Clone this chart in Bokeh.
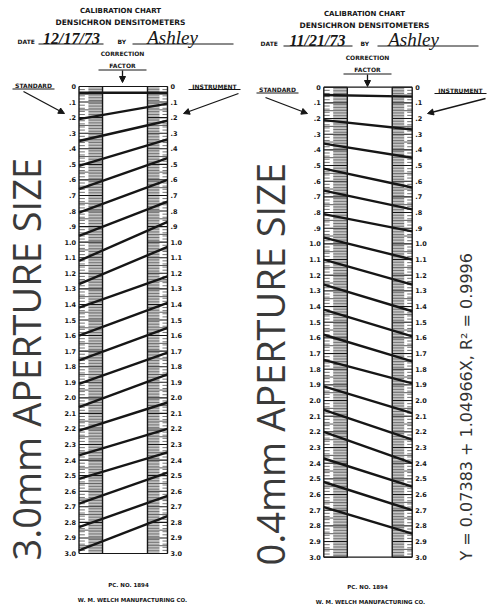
import numpy as np
from bokeh.plotting import figure
from bokeh.layouts import row
from bokeh.models import Range1d, Arrow, NormalHead
from bokeh.core.properties import value
from bokeh.embed import file_html
from bokeh.resources import INLINE

# Scale labels printed beside both density scales (0 to 3.0)
tick_labels = ["0", ".1", ".2", ".3", ".4", ".5", ".6", ".7", ".8", ".9",
               "1.0", "1.1", "1.2", "1.3", "1.4", "1.5", "1.6", "1.7", "1.8", "1.9",
               "2.0", "2.1", "2.2", "2.3", "2.4", "2.5", "2.6", "2.7", "2.8", "2.9",
               "3.0"]

# 3.0 mm aperture: standard density (left scale) joined to instrument reading (right scale)
std_3mm = [0.04, 0.21, 0.35, 0.51, 0.66, 0.81, 0.96, 1.12, 1.27, 1.42,
           1.60, 1.76, 1.91, 2.06, 2.21, 2.37, 2.52, 2.68, 2.83, 2.98]
inst_3mm = [0.04, 0.11, 0.22, 0.34, 0.46, 0.60, 0.74, 0.87, 1.03, 1.22,
            1.39, 1.55, 1.71, 1.85, 2.03, 2.20, 2.35, 2.48, 2.63, 2.76]

# 0.4 mm aperture
std_04mm = [0.05, 0.21, 0.36, 0.52, 0.66, 0.81, 0.96, 1.10, 1.26, 1.42,
            1.58, 1.74, 1.91, 2.06, 2.20, 2.37, 2.52, 2.68]
inst_04mm = [0.06, 0.27, 0.45, 0.64, 0.78, 0.92, 1.10, 1.26, 1.43, 1.59,
             1.75, 1.89, 2.08, 2.25, 2.40, 2.55, 2.70, 2.85]

dates = ["12/17/73", "11/21/73"]
operator = "Ashley"
apertures = ["3.0mm APERTURE SIZE", "0.4mm APERTURE SIZE"]
fit_label = "Y = 0.07383 + 1.04966X, R\u00b2 = 0.9996"

INK = "#161616"
BOLD = value("DejaVu Sans")
HAND = value("Liberation Serif")


def make_sheet(width, frame, std, inst, date, aperture, pos, fit=None):
    xl, xr, y0, y3 = frame
    X = lambda px: (px - xl) / (xr - xl)
    V = lambda py: (py - y0) / (y3 - y0) * 3.0

    p = figure(width=width, height=605, output_backend="svg", toolbar_location=None,
               x_range=Range1d(X(0), X(width)), y_range=Range1d(V(605), V(0)),
               min_border=0, outline_line_color=None, background_fill_color="white",
               border_fill_color="white")
    p.axis.visible = False
    p.grid.visible = False

    def txt(x, y, s, size, align="center", style="bold", font=BOLD, angle=0.0,
            baseline="middle", color=INK):
        p.text(x=[X(x)], y=[V(y)], text=[s], text_font=font, text_font_size=size,
               text_font_style=style, text_align=align, text_baseline=baseline,
               angle=angle, text_color=color)

    def hline(x0, x1, y, w=1.0):
        p.segment(x0=[X(x0)], y0=[V(y)], x1=[X(x1)], y1=[V(y)], line_color=INK, line_width=w)

    def arrow(x0, y0_, x1, y1):
        p.add_layout(Arrow(x_start=X(x0), y_start=V(y0_), x_end=X(x1), y_end=V(y1),
                           line_color=INK, line_width=1.3,
                           end=NormalHead(size=6, fill_color=INK, line_color=INK)))

    # strip geometry (fractions of the scale width)
    s_in_l, s_in_r = 0.266, 0.774
    vals = [float(t) for t in tick_labels]

    # fine graduations inside both strips
    fine = np.round(np.arange(0, 3.0001, 0.01), 2)
    minor = [v for v in fine if round(v * 100) % 10 != 0]
    half = [v for v in minor if round(v * 100) % 5 == 0]
    small = [v for v in minor if round(v * 100) % 5 != 0]
    wl, wr = s_in_l, 1 - s_in_r
    p.segment(x0=[s_in_l] * len(small), y0=small, x1=[s_in_l - 0.6 * wl] * len(small), y1=small,
              line_color=INK, line_width=0.6)
    p.segment(x0=[s_in_r] * len(small), y0=small, x1=[s_in_r + 0.6 * wr] * len(small), y1=small,
              line_color=INK, line_width=0.6)
    p.segment(x0=[0] * len(half), y0=half, x1=[wl] * len(half), y1=half,
              line_color=INK, line_width=0.7)
    p.segment(x0=[s_in_r] * len(half), y0=half, x1=[1] * len(half), y1=half,
              line_color=INK, line_width=0.7)
    outer = [v for v in small if round(v * 100) % 2 == 0]
    p.segment(x0=[0] * len(outer), y0=outer, x1=[0.25 * wl] * len(outer), y1=outer,
              line_color=INK, line_width=0.6)
    p.segment(x0=[1] * len(outer), y0=outer, x1=[1 - 0.25 * wr] * len(outer), y1=outer,
              line_color=INK, line_width=0.6)
    # major graduations every 0.1
    p.segment(x0=[0] * len(vals), y0=vals, x1=[s_in_l] * len(vals), y1=vals,
              line_color=INK, line_width=1.1)
    p.segment(x0=[s_in_r] * len(vals), y0=vals, x1=[1] * len(vals), y1=vals,
              line_color=INK, line_width=1.1)

    # frame and strip borders
    p.segment(x0=[0, 1, s_in_l, s_in_r], y0=[0, 0, 0, 0], x1=[0, 1, s_in_l, s_in_r],
              y1=[3.0, 3.0, 3.0, 3.0], line_color=INK, line_width=1.4)
    p.segment(x0=[0, 0], y0=[0, 3.0], x1=[1, 1], y1=[0, 3.0], line_color=INK, line_width=1.2)

    # scale numbers
    p.text(x=[X(xl - 3)] * len(vals), y=vals, text=tick_labels, text_font=BOLD,
           text_font_size="6.5px", text_font_style="bold", text_align="right",
           text_baseline="middle", text_color=INK)
    p.text(x=[X(xr + 3)] * len(vals), y=vals, text=tick_labels, text_font=BOLD,
           text_font_size="6.5px", text_font_style="bold", text_align="left",
           text_baseline="middle", text_color=INK)

    # correction lines: standard value -> instrument value
    p.segment(x0=[0] * len(std), y0=std, x1=[1] * len(inst), y1=inst,
              line_color=INK, line_width=2.4)

    # header
    txt(pos["cx"], pos["t1"], "CALIBRATION CHART", "7px")
    txt(pos["cx"], pos["t2"], "DENSICHRON DENSITOMETERS", "7.5px")
    txt(pos["date_x"], pos["date_y"], "DATE", "6px", align="left")
    txt(pos["d_cx"], pos["date_y"] - 3, date, "16px", style="bold italic", font=HAND)
    hline(pos["d_u"][0], pos["d_u"][1], pos["date_y"] + 2.5, 1.0)
    txt(pos["by_x"], pos["date_y"], "BY", "6px", align="left")
    txt(pos["n_cx"], pos["date_y"] - 4, operator, "19px", style="italic", font=HAND)
    hline(pos["n_u"][0], pos["n_u"][1], pos["date_y"] + 2.5, 1.0)
    txt(pos["cf_x"], pos["cf_y"], "CORRECTION", "6px")
    txt(pos["cf_x"], pos["cf_y"] + 12, "FACTOR", "6px")
    hline(pos["cf_x"] - 24, pos["cf_x"] + 24, pos["cf_y"] + 16.5, 1.0)
    arrow(pos["cf_x"], pos["cf_y"] + 17, pos["cf_x"], pos["cf_y"] + 29)

    txt(pos["std"][0], pos["std"][1], "STANDARD", "6px")
    hline(pos["std"][0] - 21, pos["std"][0] + 21, pos["std"][1] + 3.5, 1.0)
    arrow(*pos["std_arrow"])
    txt(pos["ins"][0], pos["ins"][1], "INSTRUMENT", "6px")
    hline(pos["ins"][0] - 26, pos["ins"][0] + 26, pos["ins"][1] + 3.5, 1.0)
    arrow(*pos["ins_arrow"])

    # footer
    txt(pos["f1"][0], pos["f1"][1], "PC. NO. 1894", "5.5px")
    txt(pos["f2"][0], pos["f2"][1], "W. M. WELCH MANUFACTURING CO.", "5.5px")

    # aperture caption and fit equation (rotated to read upwards)
    txt(pos["ap_x"], pos["ap_y"], aperture, "38px", align="left", style="normal",
        font=value("Open Sans"), angle=np.pi / 2, baseline="middle", color="#3a3a3a")
    if fit is not None:
        txt(222, 560, fit, "16px", align="left", style="normal",
            font=value("DejaVu Sans"), angle=np.pi / 2, baseline="middle", color="#333333")
    return p


pos_left = dict(cx=120, t1=10, t2=22, date_x=17, date_y=41, d_cx=71, d_u=(38, 103), by_x=117,
                n_cx=172, n_u=(132, 233), cf_x=122, cf_y=53, std=(33, 85),
                std_arrow=(23, 91, 64, 113), ins=(214, 85.5), ins_arrow=(238, 93, 183, 113),
                f1=(128, 584), f2=(132, 599), ap_x=25, ap_y=560)
pos_right = dict(cx=120, t1=13, t2=25, date_x=16, date_y=43, d_cx=73, d_u=(39, 108), by_x=116,
                 n_cx=169, n_u=(133, 234), cf_x=123, cf_y=57, std=(33, 89),
                 std_arrow=(21, 97, 63, 113), ins=(216, 89.5), ins_arrow=(241, 98, 183, 113),
                 f1=(123, 586), f2=(126, 601), ap_x=25, ap_y=565)

left = make_sheet(244, (78.5, 167.0, 86.0, 553.0), std_3mm, inst_3mm, dates[0], apertures[0], pos_left)
right = make_sheet(245, (79.3, 167.7, 86.7, 556.7), std_04mm, inst_04mm, dates[1], apertures[1],
                   pos_right, fit=fit_label)

layout = row(left, right, spacing=0)
open("out.html", "w").write(file_html(layout, INLINE))
